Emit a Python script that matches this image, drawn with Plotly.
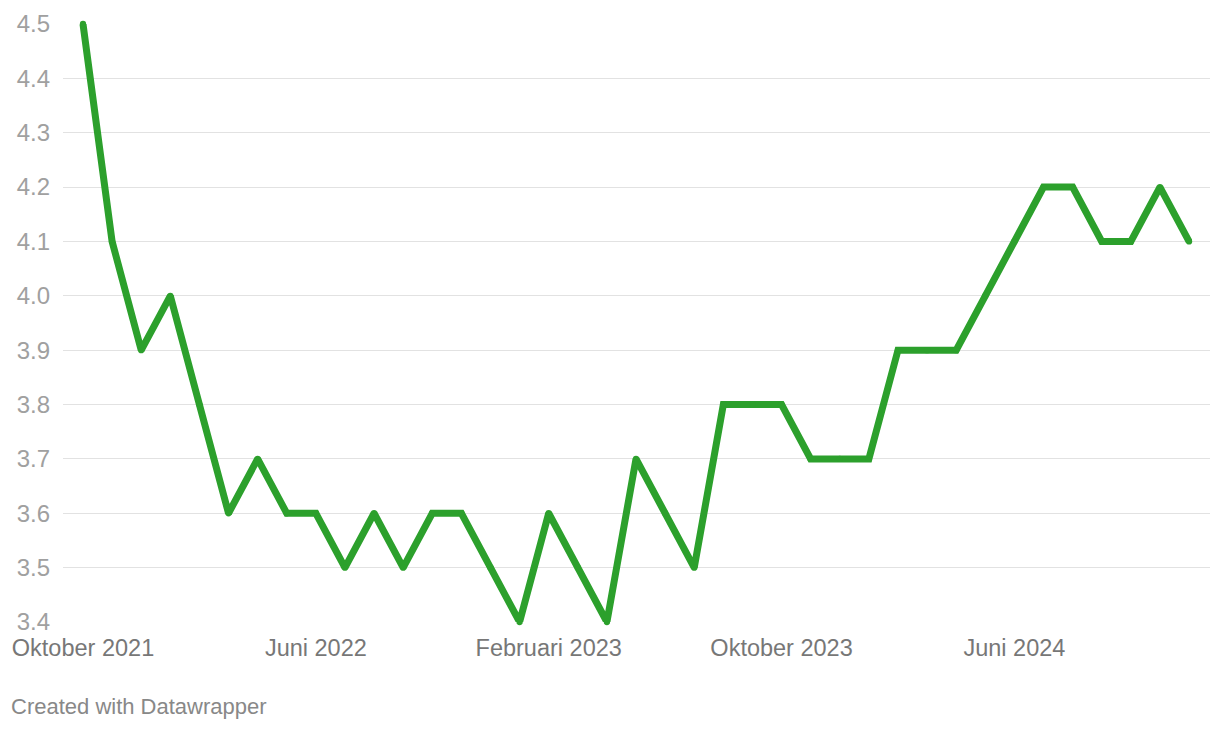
import plotly.graph_objects as go

months = ["Okt 2021","Nov 2021","Dec 2021","Jan 2022","Feb 2022","Mar 2022","Apr 2022","Mei 2022",
          "Jun 2022","Jul 2022","Agu 2022","Sep 2022","Okt 2022","Nov 2022","Dec 2022",
          "Jan 2023","Feb 2023","Mar 2023","Apr 2023","Mei 2023","Jun 2023","Jul 2023","Agu 2023",
          "Sep 2023","Okt 2023","Nov 2023","Dec 2023","Jan 2024","Feb 2024","Mar 2024","Apr 2024",
          "Mei 2024","Jun 2024","Jul 2024","Agu 2024","Sep 2024","Okt 2024","Nov 2024","Dec 2024"]
values = [4.5, 4.1, 3.9, 4.0, 3.8, 3.6, 3.7, 3.6,
          3.6, 3.5, 3.6, 3.5, 3.6, 3.6, 3.5,
          3.4, 3.6, 3.5, 3.4, 3.7, 3.6, 3.5, 3.8,
          3.8, 3.8, 3.7, 3.7, 3.7, 3.9, 3.9, 3.9,
          4.0, 4.1, 4.2, 4.2, 4.1, 4.1, 4.2, 4.1]
tick_idx = [0, 8, 16, 24, 32]
tick_labels = ["Oktober 2021", "Juni 2022", "Februari 2023", "Oktober 2023", "Juni 2024"]
y_ticks = [3.4, 3.5, 3.6, 3.7, 3.8, 3.9, 4.0, 4.1, 4.2, 4.3, 4.4, 4.5]

x = list(range(len(values)))
GREEN = "#2ca02c"

fig = go.Figure()
fig.add_trace(go.Scatter(
    x=x, y=values, mode="lines+markers",
    line=dict(color=GREEN, width=7, shape="linear"),
    marker=dict(color=GREEN, size=6.3, line=dict(width=0)),
    cliponaxis=False, hoverinfo="skip", showlegend=False,
))

fig.update_layout(
    width=1204, height=714,
    margin=dict(l=55, r=2, t=14, b=100),
    paper_bgcolor="white", plot_bgcolor="white",
    font=dict(family="Liberation Sans, Arial, sans-serif"),
    xaxis=dict(
        range=[-0.687, 38.72],
        tickmode="array", tickvals=tick_idx, ticktext=tick_labels,
        showgrid=False, zeroline=False, showline=False,
        ticks="", tickfont=dict(size=23.5, color="#777777"),
        ticklabelstandoff=9,
    ),
    yaxis=dict(
        range=[3.4, 4.5],
        tickmode="array", tickvals=y_ticks,
        ticktext=[f"{v:.1f}" for v in y_ticks],
        showgrid=True, gridcolor="#e2e2e2", gridwidth=1,
        zeroline=False, showline=False, ticks="",
        tickfont=dict(size=24, color="#a0a0a0"),
        ticklabelstandoff=12,
    ),
    annotations=[dict(
        text="Created with Datawrapper", xref="paper", yref="paper",
        x=0, xanchor="left", xshift=-54, y=0, yanchor="middle", yshift=-84,
        showarrow=False, font=dict(size=22, color="#888888"),
    )],
)

fig.write_html("out.html")
